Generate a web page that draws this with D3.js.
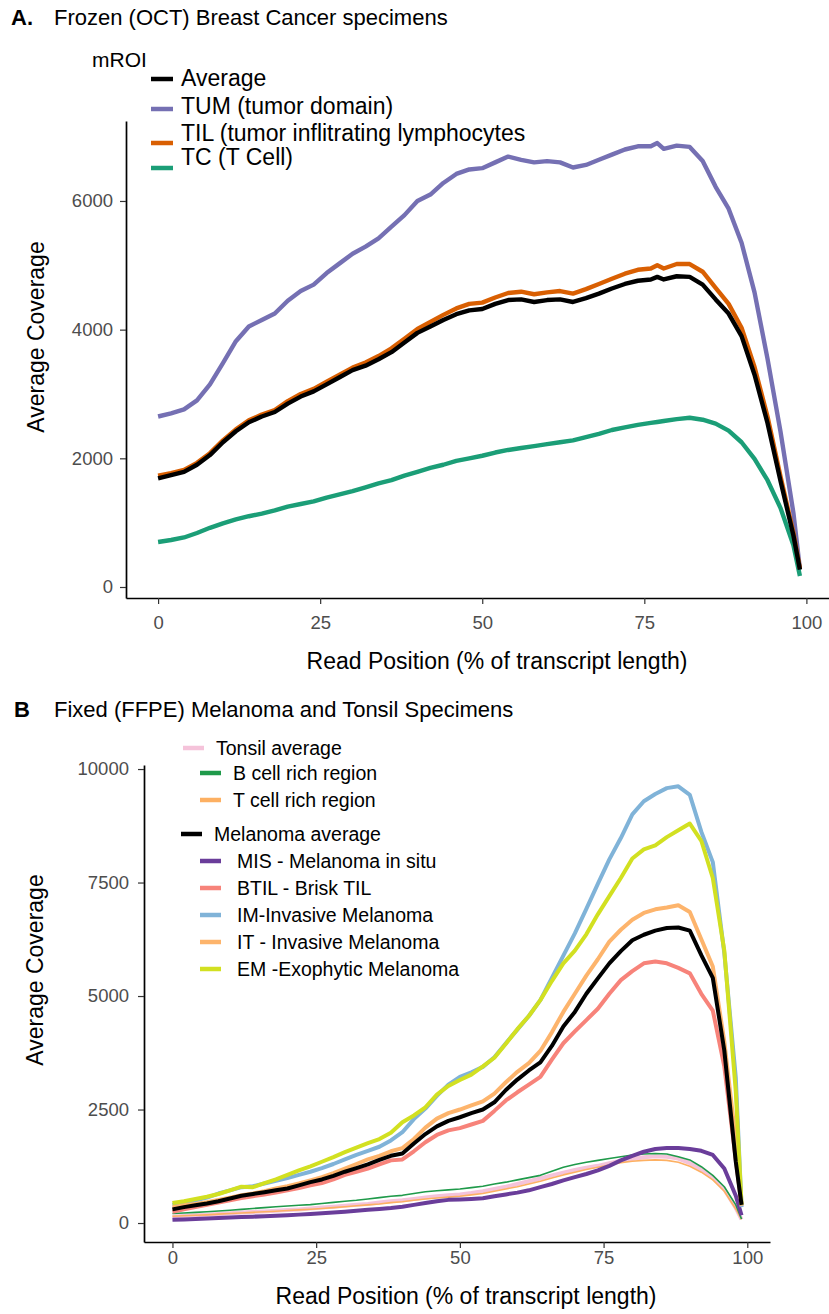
<!DOCTYPE html>
<html><head><meta charset="utf-8">
<script src="https://cdn.jsdelivr.net/npm/d3@7"></script>
<style>body{margin:0;background:#fff}svg text{font-family:"Liberation Sans",Arial,Helvetica,sans-serif}</style>
</head><body><svg id="c" width="829" height="1314" xmlns="http://www.w3.org/2000/svg"></svg>
<script>
// ---------- Panel A data ----------
const posA = [0,2,4,6,8,10,12,14,16,18,20,22,24,26,28,30,32,34,36,38,40,42,44,46,48,50,52,54,56,58,60,62,64,66,68,70,72,74,76,77,78,80,82,84,86,88,90,92,94,96,98,99];
const tumA = [2650,2700,2760,2900,3150,3480,3820,4050,4150,4250,4450,4600,4700,4880,5030,5180,5290,5420,5600,5780,6000,6100,6280,6420,6490,6510,6600,6690,6640,6600,6620,6600,6520,6560,6640,6720,6800,6850,6850,6900,6810,6860,6840,6620,6220,5880,5350,4580,3550,2420,1150,280];
const tilA = [1730,1770,1820,1930,2080,2280,2450,2590,2680,2750,2890,3000,3080,3190,3300,3410,3490,3590,3710,3860,4010,4120,4230,4330,4400,4420,4500,4570,4590,4550,4580,4600,4560,4630,4710,4790,4870,4930,4950,5000,4950,5020,5020,4900,4650,4400,4030,3420,2650,1720,840,290];
const avgA = [1690,1740,1790,1900,2050,2250,2420,2560,2650,2720,2850,2960,3040,3150,3260,3370,3440,3540,3650,3800,3950,4050,4150,4240,4300,4320,4400,4460,4470,4430,4460,4470,4430,4490,4560,4640,4710,4760,4780,4820,4780,4830,4820,4700,4470,4250,3900,3300,2550,1650,800,270];
const tcA  = [700,730,770,840,920,990,1050,1100,1140,1190,1250,1290,1330,1390,1440,1490,1550,1610,1660,1730,1790,1850,1900,1960,2000,2040,2090,2130,2160,2190,2220,2250,2280,2330,2380,2440,2480,2520,2550,2565,2580,2610,2630,2600,2540,2430,2250,1990,1660,1230,650,170];
const namesA = ["Average","TUM (tumor domain)","TIL (tumor inflitrating lymphocytes","TC (T Cell)"];
const colorsA = ["#000000","#7570b3","#d95f02","#1b9e77"];
const yTicksA = [0,2000,4000,6000];
const xTicks = [0,25,50,75,100];

// ---------- Panel B data ----------
const posB = [0,2,4,6,8,10,12,14,16,18,20,22,24,26,28,30,32,34,36,38,40,42,44,46,48,50,52,54,56,58,60,62,64,66,68,70,72,74,76,78,80,82,84,86,88,90,92,94,96,98,99];
const tonsilB = [140,155,170,185,200,215,230,245,255,270,285,300,320,340,360,380,400,420,450,480,500,530,560,590,610,630,660,700,750,800,860,920,980,1050,1110,1170,1220,1260,1320,1370,1410,1450,1470,1460,1420,1320,1180,1000,740,330,80];
const bcellB = [210,220,235,250,265,280,300,320,340,360,375,390,405,430,455,480,500,530,560,590,610,650,690,710,730,750,780,810,860,900,950,1000,1050,1140,1230,1290,1340,1380,1420,1460,1500,1520,1530,1520,1460,1390,1240,1050,800,400,90];
const tcellB = [150,160,170,180,195,210,220,235,250,260,275,290,305,320,340,360,380,400,420,450,470,500,530,550,570,590,620,650,700,750,800,860,920,990,1060,1120,1180,1230,1280,1330,1360,1380,1390,1380,1340,1250,1120,950,700,310,80];
const melB = [300,350,390,430,480,540,600,640,680,720,760,830,900,960,1040,1130,1210,1290,1390,1480,1530,1750,1960,2130,2250,2330,2420,2500,2660,2930,3160,3360,3540,3900,4330,4650,5050,5390,5720,5990,6230,6350,6440,6500,6510,6440,5900,5400,3800,1350,400];
const misB = [70,80,90,100,110,120,130,140,150,160,170,185,200,215,230,250,270,290,310,330,360,400,440,480,510,520,530,545,590,630,670,720,790,860,940,1010,1080,1160,1260,1380,1480,1570,1630,1650,1650,1630,1590,1500,1200,600,170];
const btilB = [250,300,350,400,450,500,550,590,630,670,720,770,830,880,960,1060,1130,1200,1290,1380,1400,1580,1780,1940,2040,2090,2170,2250,2470,2700,2880,3050,3220,3600,3960,4220,4470,4720,5050,5350,5550,5720,5760,5720,5620,5500,5050,4680,3450,1400,400];
const imB = [400,450,500,560,650,720,790,810,870,930,990,1060,1130,1210,1300,1400,1500,1590,1680,1820,2000,2290,2520,2800,3050,3220,3320,3440,3650,3960,4260,4560,4910,5400,5890,6380,6920,7470,8010,8480,9000,9290,9450,9580,9620,9430,8620,7950,5950,3200,350];
const itB = [350,390,420,460,510,560,610,650,700,760,810,870,940,1010,1100,1200,1300,1400,1480,1580,1650,1850,2100,2300,2420,2500,2590,2680,2850,3100,3330,3520,3790,4200,4650,5050,5450,5810,6200,6460,6680,6830,6910,6950,7000,6850,6250,5650,4000,1800,380];
const emB = [440,480,530,580,640,720,800,790,880,960,1060,1160,1250,1350,1450,1560,1660,1760,1850,1990,2220,2370,2550,2830,3020,3150,3270,3450,3640,3950,4270,4560,4910,5330,5720,6000,6360,6800,7200,7600,8030,8230,8320,8500,8650,8800,8420,7600,6000,2900,400];
const namesB = ["Tonsil average","B cell rich region","T cell rich region","Melanoma average","MIS - Melanoma in situ","BTIL - Brisk TIL","IM-Invasive Melanoma","IT - Invasive Melanoma","EM -Exophytic Melanoma"];
const colorsB = ["#f5c3da","#1f9a4a","#fdb062","#000000","#6a3d9a","#f7837a","#80b3d8","#fdb46c","#d2e021"];
const yTicksB = [0,2500,5000,7500,10000];

// ---------- drawing ----------
const svg = d3.select("#c");
const tickCol = "#4d4d4d";

function drawAxes(x, y, yTicks, o) {
  const gx = svg.append("g").attr("transform", `translate(0,${o.xAxisY})`)
    .call(d3.axisBottom(x).tickValues(xTicks).tickSize(o.tick).tickSizeOuter(0).tickPadding(o.xPad));
  const gy = svg.append("g").attr("transform", `translate(${o.yAxisX},0)`)
    .call(d3.axisLeft(y).tickValues(yTicks).tickSize(o.tick).tickSizeOuter(0).tickPadding(o.yPad).tickFormat(d3.format("d")));
  [gx, gy].forEach(g => {
    g.select(".domain").attr("stroke", "#000").attr("stroke-width", 1.7);
    g.selectAll(".tick line").attr("stroke", "#333").attr("stroke-width", 1.2);
    g.selectAll(".tick text").attr("fill", tickCol).style("font-size", "18.5px")
      .style("font-family", '"Liberation Sans", Arial, sans-serif');
  });
}

function drawLine(x, y, pos, vals, color, width) {
  const line = d3.line().x((d, i) => x(pos[i])).y(d => y(d));
  svg.append("path").datum(vals).attr("d", line).attr("fill", "none")
    .attr("stroke", color).attr("stroke-width", width)
    .attr("stroke-linejoin", "round").attr("stroke-linecap", "butt");
}

function txt(x, y, s, size, opt = {}) {
  const t = svg.append("text").attr("x", x).attr("y", y).text(s)
    .style("font-size", size + "px").attr("fill", opt.fill || "#000");
  if (opt.bold) t.style("font-weight", "bold");
  if (opt.anchor) t.attr("text-anchor", opt.anchor);
  if (opt.transform) t.attr("transform", opt.transform).attr("x", 0).attr("y", 0);
  return t;
}

// ===== Panel A =====
const xA = d3.scaleLinear().domain([-4.95, 103.95]).range([126, 832]);
const yA = d3.scaleLinear().domain([-171, 7243]).range([598, 121]);
drawAxes(xA, yA, yTicksA, {xAxisY: 598, yAxisX: 126, tick: 6, xPad: 12, yPad: 7});
const seriesA = [tcA, tumA, tilA, avgA];
const colIdxA = [3, 1, 2, 0];
seriesA.forEach((s, k) => drawLine(xA, yA, posA, s, colorsA[colIdxA[k]], 4.4));

txt(11, 25, "A.", 22, {bold: true});
txt(54, 25, "Frozen (OCT) Breast Cancer specimens", 22);
txt(92, 67, "mROI", 21);
const keyYA = [79, 109, 143, 168];
const txtYA = [86, 114, 141, 165];
namesA.forEach((n, i) => {
  svg.append("line").attr("x1", 151).attr("x2", 173).attr("y1", keyYA[i]).attr("y2", keyYA[i])
    .attr("stroke", colorsA[i]).attr("stroke-width", 4.5);
  txt(181, txtYA[i], n, 23);
});
txt(0, 0, "Average Coverage", 23, {anchor: "middle", transform: "translate(44,337) rotate(-90)"});
txt(497, 669, "Read Position (% of transcript length)", 23, {anchor: "middle"});

// ===== Panel B =====
const xB = d3.scaleLinear().domain([-4.95, 103.95]).range([144, 770]);
const yB = d3.scaleLinear().domain([-418, 10089]).range([1242, 765]);
drawAxes(xB, yB, yTicksB, {xAxisY: 1242, yAxisX: 144, tick: 6, xPad: 3, yPad: 9});
const orderB = [0, 2, 1, 4, 5, 6, 7, 8, 3];
const seriesB = [tonsilB, bcellB, tcellB, melB, misB, btilB, imB, itB, emB];
const widthB = [4, 1.6, 1.6, 4, 4, 4, 4, 4, 4];
orderB.forEach(i => drawLine(xB, yB, posB, seriesB[i], colorsB[i], widthB[i]));

txt(14, 717, "B", 22, {bold: true});
txt(54, 717, "Fixed (FFPE) Melanoma and Tonsil Specimens", 22);
const keyYB = [748, 773, 800, 834, 861, 888, 915, 942, 969];
const keyX1 = [183, 200, 200, 181, 200, 200, 200, 200, 200];
const txtX = [216, 233, 233, 214, 237, 237, 237, 237, 237];
namesB.forEach((n, i) => {
  svg.append("line").attr("x1", keyX1[i]).attr("x2", keyX1[i] + 21).attr("y1", keyYB[i]).attr("y2", keyYB[i])
    .attr("stroke", colorsB[i]).attr("stroke-width", 4.5);
  txt(txtX[i], keyYB[i] + 7, n, 19.5);
});
txt(0, 0, "Average Coverage", 23, {anchor: "middle", transform: "translate(43,970) rotate(-90)"});
txt(466, 1304, "Read Position (% of transcript length)", 23, {anchor: "middle"});
</script>
</body></html>
